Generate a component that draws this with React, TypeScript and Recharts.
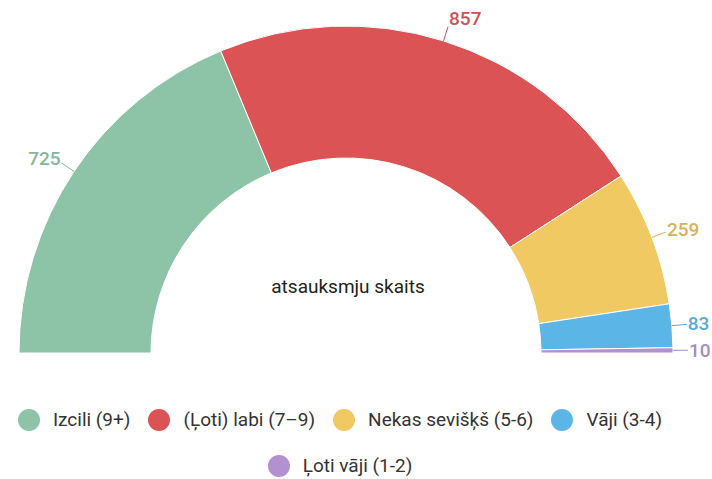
import { Legend, Pie, PieChart } from "recharts";

if (typeof document !== "undefined") document.body.style.margin = "0";

const categories = [
  "Izcili (9+)",
  "(Ļoti) labi (7–9)",
  "Nekas sevišķš (5-6)",
  "Vāji (3-4)",
  "Ļoti vāji (1-2)",
];
const counts = [725, 857, 259, 83, 10];
const colors = ["#8dc3a7", "#dc5356", "#f0c962", "#5bb5e6", "#b391d0"];
const labelColors = ["#86b59c", "#cf5158", "#d6b25a", "#58a8d6", "#a58cc6"];

const data = categories.map((name, i) => ({
  name,
  value: counts[i],
  fill: colors[i],
}));

const RAD = Math.PI / 180;

const renderLabel = (props: any) => {
  const { cx, cy, midAngle, outerRadius, value, index } = props;
  const cos = Math.cos(midAngle * RAD);
  const sin = Math.sin(midAngle * RAD);
  const x1 = cx + outerRadius * cos;
  const y1 = cy - outerRadius * sin;
  const x2 = cx + (outerRadius + 15) * cos;
  const y2 = cy - (outerRadius + 15) * sin;
  const right = cos >= 0;
  const tx = x2 + (right ? 1 : -1);
  const ty = y2 - 8 * sin;
  return (
    <g>
      <line x1={x1} y1={y1} x2={x2} y2={y2} stroke={labelColors[index]} strokeWidth={1} />
      <text
        x={tx}
        y={ty}
        fill={labelColors[index]}
        textAnchor={right ? "start" : "end"}
        dominantBaseline="central"
        fontSize={19}
        fontWeight={500}
      >
        {value}
      </text>
    </g>
  );
};

const renderLegend = () => (
  <div
    style={{
      display: "flex",
      flexWrap: "wrap",
      justifyContent: "center",
      rowGap: 24,
      columnGap: 18,
      width: 680,
    }}
  >
    {categories.map((name, i) => (
      <div key={name} style={{ display: "flex", alignItems: "center" }}>
        <span
          style={{
            display: "inline-block",
            width: 22,
            height: 22,
            borderRadius: "50%",
            background: colors[i],
            marginRight: 13,
          }}
        />
        <span style={{ fontSize: 19, color: "#333", lineHeight: "22px" }}>{name}</span>
      </div>
    ))}
  </div>
);

export default function App() {
  return (
    <div style={{ fontFamily: "Roboto, sans-serif" }}>
      <PieChart width={712} height={479} margin={{ top: 0, right: 0, bottom: 0, left: 0 }}>
        <Pie
          data={data}
          dataKey="value"
          nameKey="name"
          cx={346}
          cy={353}
          startAngle={180}
          endAngle={0}
          innerRadius={195}
          outerRadius={327}
          stroke="#ffffff"
          strokeWidth={1}
          label={renderLabel}
          labelLine={false}
          isAnimationActive={false}
        />
        <text
          x={348}
          y={286}
          textAnchor="middle"
          dominantBaseline="central"
          fontSize={19}
          fill="#222"
        >
          atsauksmju skaits
        </text>
        <Legend
          content={renderLegend}
          wrapperStyle={{ position: "absolute", left: 0, top: 409, width: 680 }}
        />
      </PieChart>
    </div>
  );
}
